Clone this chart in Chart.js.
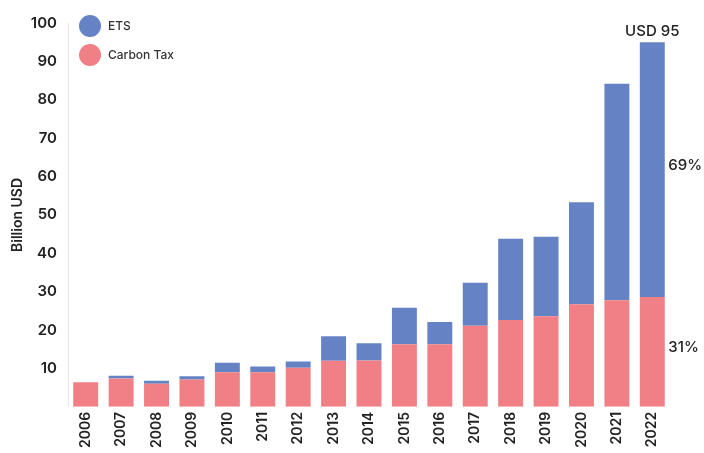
<!DOCTYPE html>
<html>
<head>
<meta charset="utf-8">
<script src="https://cdn.jsdelivr.net/npm/chart.js@4"></script>
<style>
  html, body { margin: 0; padding: 0; background: #fff; }
  #wrap { width: 704px; height: 453px; }
</style>
</head>
<body>
<div id="wrap"><canvas id="myChart"></canvas></div>
<script>
var years = ['2006', '2007', '2008', '2009', '2010', '2011', '2012', '2013', '2014',
  '2015', '2016', '2017', '2018', '2019', '2020', '2021', '2022'];
var carbonTax = [6.4, 7.4, 6.0, 7.1, 9.0, 9.0, 10.2, 12.0, 12.1, 16.3, 16.3, 21.1, 22.6, 23.6, 26.7, 27.8, 28.6];
var ets = [0, 0.7, 0.8, 0.9, 2.5, 1.5, 1.6, 6.4, 4.5, 9.5, 5.8, 11.2, 21.2, 20.7, 26.6, 56.4, 66.4];
var seriesNames = ['ETS', 'Carbon Tax'];
var totalLabel = 'USD 95';
var shareLabels = ['69%', '31%'];

var blue = 'rgb(101, 131, 196)';
var red = 'rgb(240, 127, 134)';
var fontFamily = 'Inter, "Liberation Sans", sans-serif';

// legend + annotations drawn by hand
var extras = {
  id: 'extras',
  afterDatasetsDraw: function (chart) {
    var c = chart.ctx;
    var x = chart.scales.x, y = chart.scales.y;
    var area = chart.chartArea;
    c.save();
    // legend
    var items = [[seriesNames[0], blue], [seriesNames[1], red]];
    items.forEach(function (it, i) {
      var cy = 26 + i * 29;
      c.beginPath();
      c.fillStyle = it[1];
      c.arc(area.left + 22, cy, 11, 0, Math.PI * 2);
      c.fill();
      c.fillStyle = '#333';
      c.font = '500 12px ' + fontFamily;
      c.textAlign = 'left';
      c.textBaseline = 'middle';
      c.fillText(it[0], area.left + 40, cy);
    });
    // labels on the last bar
    var last = years.length - 1;
    var bx = x.getPixelForValue(last);
    var total = carbonTax[last] + ets[last];
    c.fillStyle = '#222';
    c.font = '500 15px ' + fontFamily;
    c.textAlign = 'center';
    c.textBaseline = 'bottom';
    c.fillText(totalLabel, bx, y.getPixelForValue(total) - 3);
    c.textAlign = 'left';
    c.textBaseline = 'middle';
    c.fillText(shareLabels[0], bx + 16, y.getPixelForValue(carbonTax[last] + ets[last] / 2) - 4);
    c.fillText(shareLabels[1], bx + 16, y.getPixelForValue(carbonTax[last] / 2) - 4);
    c.restore();
  }
};

var ctx = document.getElementById('myChart').getContext('2d');
var chart = new Chart(ctx, {
  type: 'bar',
  data: {
    labels: years,
    datasets: [{
      label: seriesNames[1],
      data: carbonTax,
      backgroundColor: red
    }, {
      label: seriesNames[0],
      data: ets,
      backgroundColor: blue
    }]
  },
  options: {
    responsive: true,
    maintainAspectRatio: false,
    animation: false,
    layout: { padding: { top: 23, right: 34, left: 0, bottom: 0 } },
    datasets: { bar: { categoryPercentage: 0.8, barPercentage: 0.88 } },
    plugins: {
      legend: { display: false },
      tooltip: { enabled: false }
    },
    scales: {
      x: {
        stacked: true,
        grid: { display: false, drawTicks: false },
        border: { display: false },
        ticks: {
          color: '#222',
          font: { family: fontFamily, size: 14, weight: '600' },
          minRotation: 90,
          maxRotation: 90,
          padding: 5
        }
      },
      y: {
        stacked: true,
        min: 0,
        max: 100,
        afterFit: function (scale) { scale.width = 68; },
        grid: { display: false, drawTicks: false },
        border: { display: true, color: '#e4e4e4' },
        title: {
          display: true,
          text: 'Billion USD',
          color: '#222',
          font: { family: fontFamily, size: 14, weight: '600' },
          padding: { top: 9, bottom: 4 }
        },
        ticks: {
          stepSize: 10,
          color: '#222',
          padding: 11,
          font: { family: fontFamily, size: 15, weight: '600' },
          callback: function (v) { return v === 0 ? '' : v; }
        }
      }
    }
  },
  plugins: [extras]
});
</script>
</body>
</html>
